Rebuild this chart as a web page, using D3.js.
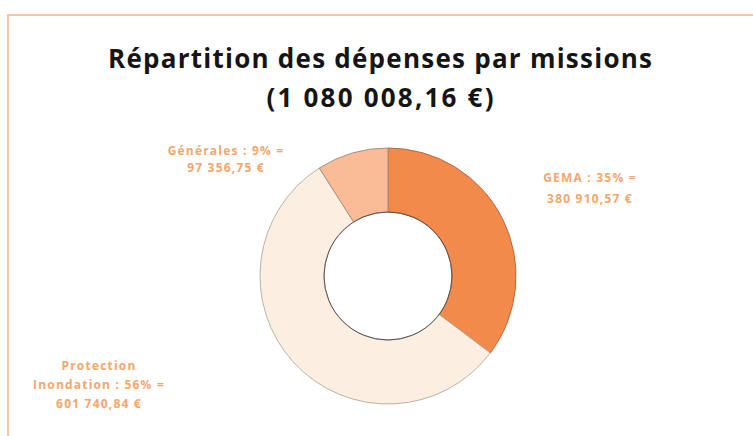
<!DOCTYPE html>
<html><head><meta charset="utf-8">
<script src="https://cdn.jsdelivr.net/npm/d3@7"></script>
<style>body{margin:0;background:#fff}svg{display:block}</style>
</head><body>
<svg id="c" width="753" height="436"></svg>
<script>
const categories = ["GEMA", "Protection Inondation", "Générales"];
const values = [380910.57, 601740.84, 97356.75];
const percents = ["35%", "56%", "9%"];
const amounts = ["380 910,57 €", "601 740,84 €", "97 356,75 €"];
const labelLines = [
  ["GEMA :  35% =", "380 910,57 €"],
  ["Protection", "Inondation : 56% =", "601 740,84 €"],
  ["Générales : 9% =", "97 356,75 €"]
];
const titleLines = ["Répartition des dépenses par missions", "(1 080 008,16 €)"];
const colors = ["#f28a4c", "#fcefe1", "#f9bc96"];
const strokes = ["#b8683a", "#b9b2a8", "#a89080"];

const svg = d3.select("#c");
// frame
svg.append("rect").attr("x", 8).attr("y", 15).attr("width", 760).attr("height", 440)
  .attr("fill", "#fff").attr("stroke", "#f5c6a0").attr("stroke-width", 2);

// title
const titleLen = [544, 227];
svg.selectAll("text.title").data(titleLines).join("text").attr("class", "title")
  .attr("x", 380).attr("y", (d, i) => 68 + i * 39)
  .attr("text-anchor", "middle")
  .attr("font-family", "'Open Sans', sans-serif").attr("font-weight", "bold")
  .attr("font-size", 26).attr("fill", "#151515")
  .attr("textLength", (d, i) => titleLen[i]).attr("lengthAdjust", "spacing")
  .text(d => d);

const cx = 388, cy = 276, R = 128, r = 64;
const pie = d3.pie().sort(null).value(d => d);
const arc = d3.arc().innerRadius(r).outerRadius(R);
const g = svg.append("g").attr("transform", `translate(${cx},${cy})`);
g.selectAll("path").data(pie(values)).join("path")
  .attr("d", arc).attr("fill", (d, i) => colors[i])
  .attr("stroke", (d, i) => strokes[i]).attr("stroke-width", 1);
g.append("circle").attr("r", r).attr("fill", "none").attr("stroke", "#555").attr("stroke-width", 1);

// labels
const labelPos = [[590, 182], [99, 370], [226, 155]];
const labelGap = [21, 19, 17];
labelLines.forEach((lines, i) => {
  const t = svg.append("text").attr("text-anchor", "middle")
    .attr("font-family", "'Open Sans', sans-serif").attr("font-weight", "bold")
    .attr("font-size", 12).attr("letter-spacing", 1.2).attr("fill", "#f5a66c");
  lines.forEach((l, j) => t.append("tspan").attr("x", labelPos[i][0])
    .attr("y", labelPos[i][1] + j * labelGap[i]).text(l));
});
</script>
</body></html>
